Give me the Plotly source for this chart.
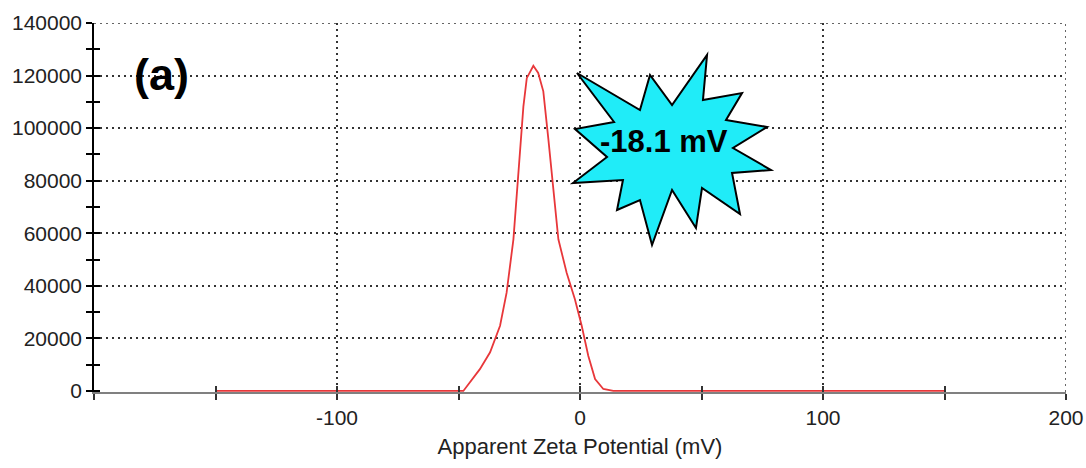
import plotly.graph_objects as go

# Data
zeta_mv = [-150, -48.0, -41.2, -37.0, -32.9, -30.2, -27.4, -25.4, -23.3, -21.9, -19.2,
           -17.2, -15.1, -13.0, -11.0, -8.9, -5.5, -2.1, 0.7, 3.4, 6.2, 9.6, 13.7, 150]
counts = [0, 0, 8300, 14700, 24800, 37400, 57700, 83000, 108200, 119000, 123700,
          121000, 114000, 95600, 76600, 57700, 45000, 34900, 24800, 13400, 4550, 760, 0, 0]

x_tickvals = [-100, 0, 100, 200]
y_tickvals = [0, 20000, 40000, 60000, 80000, 100000, 120000, 140000]
y_gridvals = [20000, 40000, 60000, 80000, 100000, 120000, 140000]

# Starburst callout outline (pixel positions in the 1086x468 page)
star_px = [(577, 73), (640, 110), (650, 75), (672, 105), (707, 55), (703, 100), (742, 93),
           (726, 120), (767, 127), (733, 148), (771, 170), (732, 173), (740, 214), (702, 188),
           (696, 228), (672, 190), (652, 245), (640, 200), (617, 210), (623, 180), (573, 183),
           (607, 157), (575, 129), (614, 122)]

W, H = 1086, 468
PX0, PX1, PY0, PY1 = 94, 1066, 23, 392   # plot area in page pixels
L, R, T, B = PX0, W - PX1, PY0, H - PY1
pw, ph = PX1 - PX0, PY1 - PY0


def to_paper(p):
    return (p[0] - PX0) / pw, (PY1 - p[1]) / ph


star_path = "M " + " L ".join(f"{to_paper(p)[0]:.4f},{to_paper(p)[1]:.4f}" for p in star_px) + " Z"

FONT = "Liberation Sans, Arial, sans-serif"
TXT = "#222222"
GRID = "#333333"
DASH = "2px,4px"
YR = [-400, 140000]
XR = [-200, 200]

fig = go.Figure()
fig.add_trace(go.Scatter(x=zeta_mv, y=counts, mode="lines",
                         line=dict(color="#e8373a", width=1.8), showlegend=False,
                         hoverinfo="skip"))
# dummy traces so the overlay axes (crossing ticks, grid) are rendered
fig.add_trace(go.Scatter(x=[None], y=[None], xaxis="x2", yaxis="y2", showlegend=False))
fig.add_trace(go.Scatter(x=[None], y=[None], xaxis="x", yaxis="y3", showlegend=False))

fig.update_layout(
    width=W, height=H,
    margin=dict(l=L, r=R, t=T, b=B, autoexpand=False),
    paper_bgcolor="white", plot_bgcolor="white",
    font=dict(family=FONT, color=TXT, size=21),
    xaxis=dict(
        range=XR, tickvals=x_tickvals, ticktext=[str(v) for v in x_tickvals],
        showline=True, linecolor="#808080", linewidth=2,
        ticks="outside", ticklen=6, tickwidth=1.5, tickcolor="#333333",
        minor=dict(dtick=50, tick0=0, ticks="outside", ticklen=6, tickwidth=1.5,
                   tickcolor="#333333", showgrid=False),
        showgrid=True, gridcolor=GRID, gridwidth=1.5, griddash=DASH,
        zeroline=False, tickfont=dict(size=21, color=TXT), automargin=False,
        title=dict(text="Apparent Zeta Potential (mV)", font=dict(size=22, color=TXT),
                   standoff=10),
        layer="below traces",
    ),
    yaxis=dict(
        range=YR, tickvals=y_tickvals, ticktext=[str(v) for v in y_tickvals],
        showline=True, linecolor="black", linewidth=1.5,
        ticks="outside", ticklen=6, tickwidth=1.5, tickcolor="black",
        minor=dict(dtick=10000, tick0=0, ticks="outside", ticklen=6, tickwidth=1.5,
                   tickcolor="black", showgrid=False),
        showgrid=False, zeroline=False, tickfont=dict(size=21, color=TXT), automargin=False,
        layer="below traces",
    ),
    xaxis2=dict(range=XR, overlaying="x", anchor="y2", side="bottom",
                showgrid=False, zeroline=False, showticklabels=False,
                ticks="inside", dtick=50, tick0=0, ticklen=6, tickwidth=1.5,
                tickcolor="#333333", showline=False, automargin=False),
    yaxis2=dict(range=YR, overlaying="y", anchor="x2", side="left",
                showgrid=False, zeroline=False, showticklabels=False,
                ticks="inside", dtick=10000, tick0=0, ticklen=6, tickwidth=1.5,
                tickcolor="black", showline=False, automargin=False),
    yaxis3=dict(range=YR, overlaying="y", anchor="x", side="left",
                tickvals=y_gridvals, showticklabels=False, ticks="",
                showgrid=True, gridcolor=GRID, gridwidth=1.5, griddash=DASH,
                zeroline=False, showline=False, automargin=False, layer="below traces"),
    shapes=[
        # grid lines at the range ends (plotly omits them)
        dict(type="line", xref="paper", yref="y", x0=0, x1=1, y0=y_gridvals[-1], y1=y_gridvals[-1],
             line=dict(color=GRID, width=1.5, dash=DASH), layer="below"),
        dict(type="line", xref="x", yref="paper", x0=x_tickvals[-1], x1=x_tickvals[-1], y0=0, y1=1,
             line=dict(color=GRID, width=1.5, dash=DASH), layer="below"),
        dict(type="path", path=star_path, xref="paper", yref="paper",
             fillcolor="#20ecf8", line=dict(color="black", width=2), layer="above"),
    ],
    annotations=[
        dict(text="<b>-18.1 mV</b>", x=to_paper((664, 141))[0], y=to_paper((664, 141))[1],
             xref="paper", yref="paper", showarrow=False, xanchor="center", yanchor="middle",
             font=dict(size=31, color="black", family=FONT)),
        dict(text="<b>(a)</b>", x=to_paper((161, 74))[0], y=to_paper((161, 74))[1],
             xref="paper", yref="paper", showarrow=False, xanchor="center", yanchor="middle",
             font=dict(size=45, color="black", family=FONT)),
    ],
)

fig.write_html("out.html", config={"displayModeBar": False},
               post_script="document.body.style.margin='0';")
